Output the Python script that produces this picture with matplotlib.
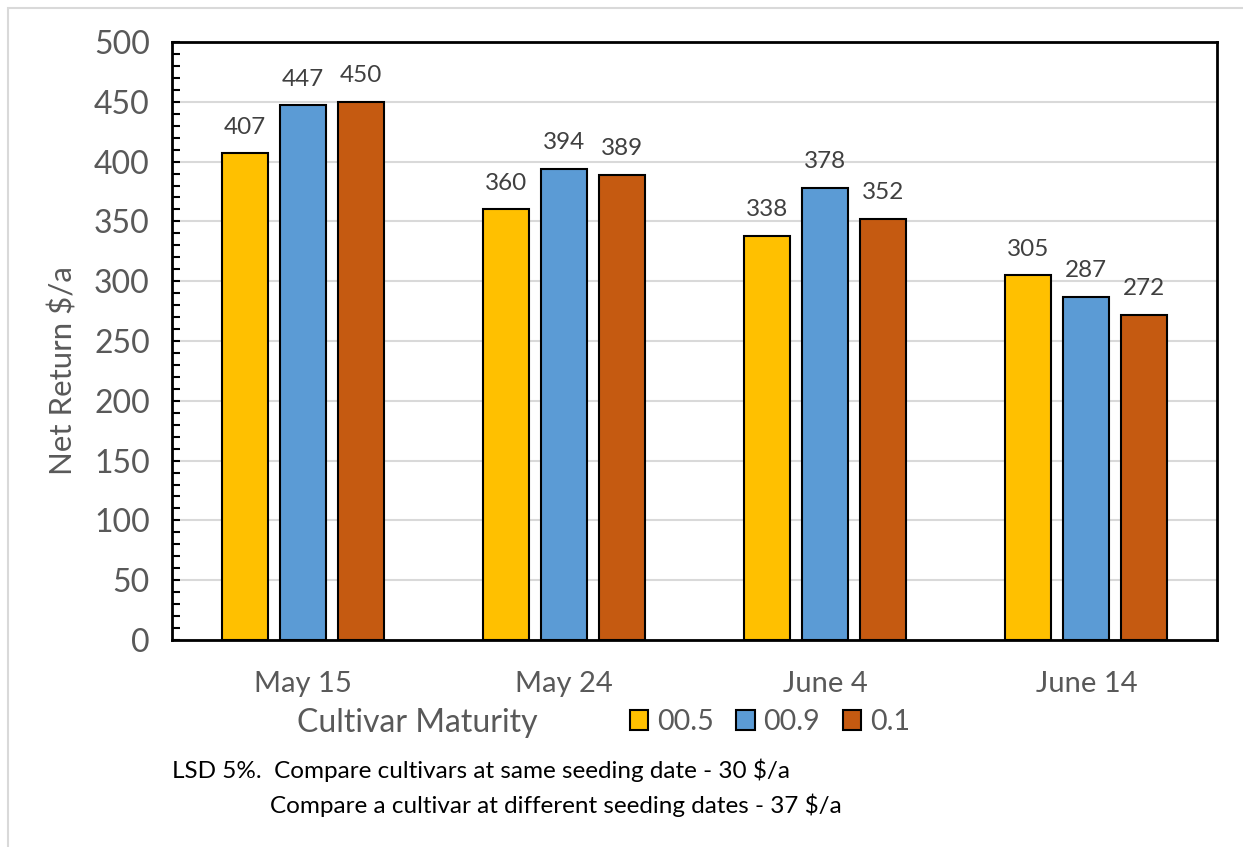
import numpy as np
import matplotlib.pyplot as plt
from matplotlib.patches import Rectangle, Patch
from matplotlib.ticker import MultipleLocator

plt.rcParams['font.family'] = ['Lato', 'DejaVu Sans']

# Net return by seeding date and cultivar maturity
dates = ['May 15', 'May 24', 'June 4', 'June 14']
cultivars = ['00.5', '00.9', '0.1']
r_005 = [407, 360, 338, 305]
r_009 = [447, 394, 378, 287]
r_01 = [450, 389, 352, 272]
colors = ['#FFC000', '#5B9BD5', '#C55A11']
gray = '#595959'

fig = plt.figure(figsize=(12.43, 8.47), dpi=100)
W, H = 1243, 847
ax = fig.add_axes([172/W, 1-640/H, (1217-172)/W, (640-42)/H])

x = np.arange(len(dates))
width = 0.176
step = 0.222
for k, vals in enumerate([r_005, r_009, r_01]):
    xs = x + (k-1)*step
    ax.bar(xs, vals, width, color=colors[k], edgecolor='black', linewidth=1.5, zorder=3)
    for xi, v in zip(xs, vals):
        ax.text(xi, v+13, str(v), ha='center', va='bottom', fontsize=17.5, color='#404040')

ax.set_xlim(-0.5, 3.5)
ax.set_ylim(0, 500)
ax.yaxis.set_major_locator(MultipleLocator(50))
ax.yaxis.set_minor_locator(MultipleLocator(10))
ax.grid(axis='y', color='#d9d9d9', lw=1.5, zorder=0)
ax.tick_params(axis='y', which='both', direction='in', length=6, width=1.5,
               labelsize=23, labelcolor=gray, pad=16)
ax.tick_params(axis='x', length=0, labelsize=21, labelcolor=gray, pad=22)
ax.set_xticks(x)
ax.set_xticklabels(dates)
for s in ax.spines.values():
    s.set_linewidth(2)

fig.text(63/W, 1-371/H, 'Net Return $/a', rotation=90, ha='center', va='center',
         fontsize=22.5, color=gray)
fig.text(417/W, 1-723/H, 'Cultivar Maturity', ha='center', va='center',
         fontsize=23, color=gray)

handles = [Patch(facecolor=c, edgecolor='black', linewidth=1.5) for c in colors]
fig.legend(handles, cultivars, loc='center left', bbox_to_anchor=(604/W, 1-722/H),
           ncol=3, frameon=False, fontsize=20.5, labelcolor=gray, handlelength=0.65,
           handleheight=0.65, handletextpad=0.3, columnspacing=0.8)

fig.text(172/W, 1-770/H, 'LSD 5%.  Compare cultivars at same seeding date - 30 $/a',
         ha='left', va='center', fontsize=17.5, color='black')
fig.text(270/W, 1-805/H, 'Compare a cultivar at different seeding dates - 37 $/a',
         ha='left', va='center', fontsize=17.5, color='black')

# light frame round the chart area
fig.patches.append(Rectangle((8/W, -0.1), 1.2, 1-8/H+0.1, transform=fig.transFigure,
                             fill=False, edgecolor='#d9d9d9', lw=1.5))

fig.savefig('out.png', dpi=100)
